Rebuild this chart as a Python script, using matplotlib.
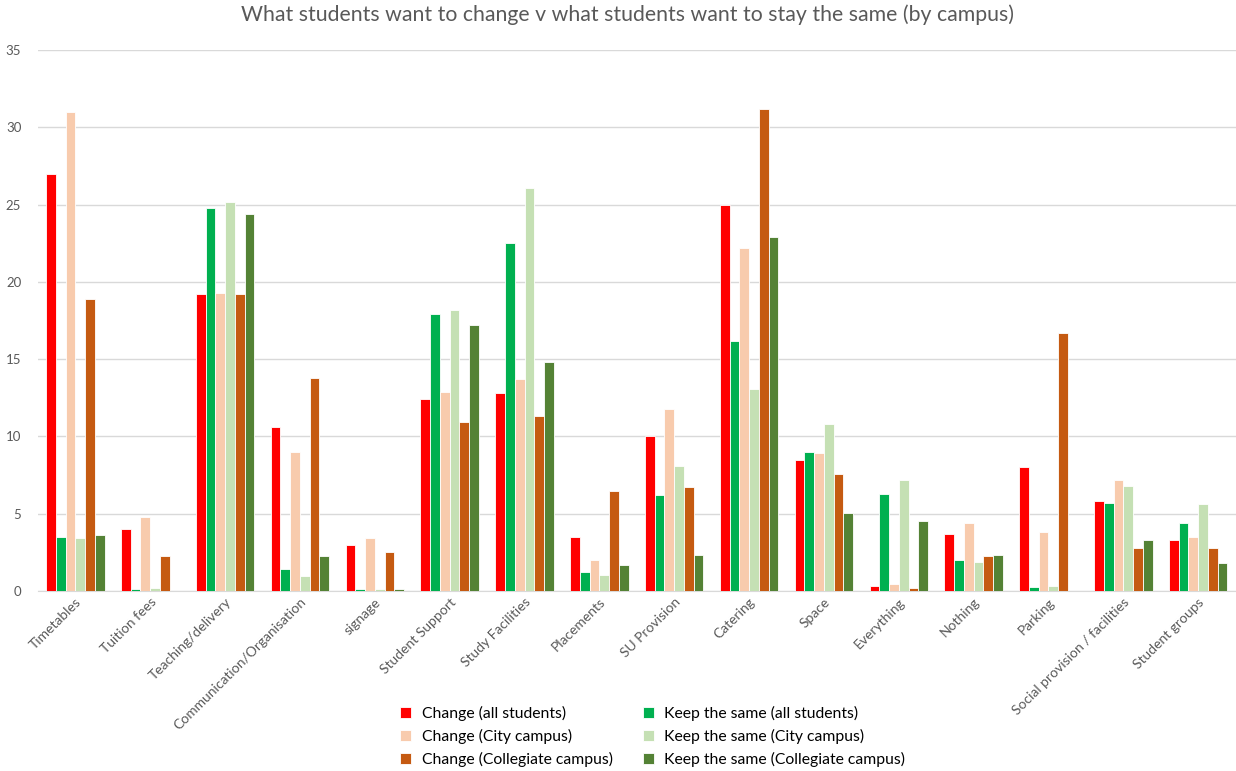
import numpy as np
import matplotlib
matplotlib.use("Agg")
import matplotlib.pyplot as plt

plt.rcParams['font.family'] = ['Lato', 'DejaVu Sans']

categories = ['Timetables', 'Tuition fees', 'Teaching/delivery', 'Communication/Organisation',
              'signage', 'Student Support', 'Study Facilities', 'Placements', 'SU Provision',
              'Catering', 'Space', 'Everything', 'Nothing', 'Parking',
              'Social provision / facilities', 'Student groups']

change_all = [27.0, 4.0, 19.2, 10.6, 3.0, 12.4, 12.8, 3.5, 10.0, 25.0, 8.5, 0.35, 3.7, 8.0, 5.8, 3.3]
keep_all = [3.5, 0.1, 24.8, 1.4, 0.1, 17.9, 22.5, 1.2, 6.2, 16.2, 9.0, 6.3, 2.0, 0.25, 5.7, 4.4]
change_city = [31.0, 4.8, 19.3, 9.0, 3.4, 12.9, 13.7, 2.0, 11.8, 22.2, 8.9, 0.45, 4.4, 3.8, 7.2, 3.5]
keep_city = [3.4, 0.2, 25.2, 1.0, 0.1, 18.2, 26.1, 1.05, 8.1, 13.1, 10.8, 7.2, 1.85, 0.35, 6.8, 5.6]
change_coll = [18.9, 2.25, 19.2, 13.8, 2.55, 10.95, 11.3, 6.5, 6.7, 31.2, 7.6, 0.2, 2.25, 16.7, 2.75, 2.75]
keep_coll = [3.6, 0.0, 24.4, 2.25, 0.1, 17.2, 14.8, 1.7, 2.35, 22.9, 5.05, 4.5, 2.35, 0.0, 3.3, 1.8]

series = [
    ('Change (all students)', change_all, '#FF0000'),
    ('Keep the same (all students)', keep_all, '#00B050'),
    ('Change (City campus)', change_city, '#F8CBAD'),
    ('Keep the same (City campus)', keep_city, '#C5E0B4'),
    ('Change (Collegiate campus)', change_coll, '#C55A11'),
    ('Keep the same (Collegiate campus)', keep_coll, '#548235'),
]

fig = plt.figure(figsize=(12.36, 7.71), dpi=100)
ax = fig.add_axes([0.0307, 0.2335, 0.969, 0.7015])

x = np.arange(len(categories))
bw = 0.13
bars = {}
for i, (label, vals, color) in enumerate(series):
    offs = (i - 2.5) * bw
    bars[label] = ax.bar(x + offs, vals, bw, color=color, edgecolor='white',
                         linewidth=0.6, label=label, zorder=3)

ax.set_xlim(-0.5, len(categories) - 0.5)
ax.set_ylim(0, 35)
ax.set_yticks(np.arange(0, 36, 5))
ax.grid(axis='y', color='#D9D9D9', linewidth=1, zorder=0)
for s in ['top', 'right', 'left']:
    ax.spines[s].set_visible(False)
ax.spines['bottom'].set_color('#D9D9D9')
ax.tick_params(axis='both', length=0, colors='#595959', labelsize=10)
ax.tick_params(axis='y', pad=12, labelsize=9.5)
ax.set_xticks(x)
ax.set_xticklabels(categories, rotation=45, ha='right', rotation_mode='anchor')

fig.suptitle('What students want to change v what students want to stay the same (by campus)',
             x=0.508, y=0.994, fontsize=15.3, color='#595959')

# legend: "Change" series in the first column, "Keep the same" in the second
order = [0, 2, 4, 1, 3, 5]
handles = [bars[series[k][0]] for k in order]
labels = [series[k][0] for k in order]
fig.legend(handles, labels, ncol=2, loc='center', bbox_to_anchor=(0.528, 0.045),
           frameon=False, fontsize=11.3, handlelength=0.7, handleheight=0.7,
           handletextpad=0.7, columnspacing=1.9, labelspacing=0.5)

fig.savefig('out.png', dpi=100)
